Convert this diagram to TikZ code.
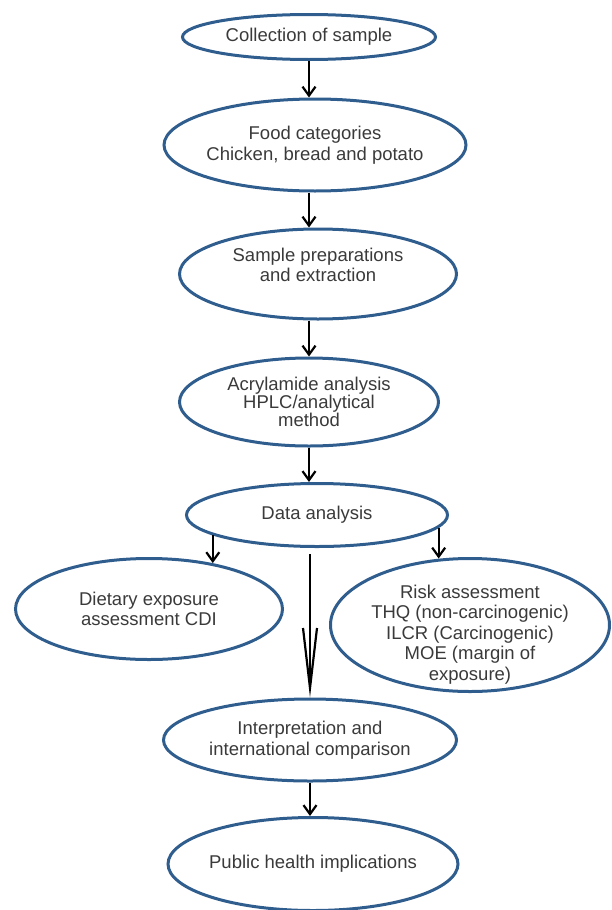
\documentclass[tikz,border=0pt]{standalone}
\usepackage{fontspec}
\setmainfont{Liberation Sans}
\usetikzlibrary{shapes.geometric,arrows.meta}
\definecolor{ovalblue}{HTML}{2F5D8E}
\definecolor{txtgray}{HTML}{3A3A3A}

\begin{document}
\begin{tikzpicture}[x=1pt, y=-1pt,
    oval/.style={ellipse, draw=ovalblue, line width=3pt, inner sep=-12pt, text=txtgray, align=center, font=\fontsize{18.5}{20.5}\selectfont},
    arr/.style={line width=2.2pt, -{Straight Barb[length=9pt,width=13pt]}},
    longarr/.style={line width=2.2pt, -{Straight Barb[length=60pt,width=14pt]}}]
    \useasboundingbox (0,0) rectangle (612,910);

    % Main chain
    \node[oval, minimum width=253, minimum height=45] (collect) at (309,37) {Collection of sample};
    \node[oval, minimum width=302, minimum height=92] (food) at (315,145) {Food categories\\Chicken, bread and potato};
    \node[oval, minimum width=277, minimum height=90] (prep) at (318,274) {Sample preparations\\and extraction\\[-2pt]\mbox{}};
    \node[oval, minimum width=259, minimum height=88, font=\fontsize{18.5}{18}\selectfont] (acryl) at (309,402) {Acrylamide analysis\\HPLC/analytical\\method};
    \node[oval, minimum width=261, minimum height=63] (data) at (317,515) {Data analysis};

    % Branches
    \node[oval, minimum width=267, minimum height=101] (diet) at (149,609) {Dietary exposure\\assessment CDI};
    \node[oval, minimum width=279, minimum height=133, inner ysep=-24pt] (risk) at (470,625) {\rule{0pt}{14pt}\\[-2pt]Risk assessment\\THQ (non-carcinogenic)\\ILCR (Carcinogenic)\\MOE (margin of\\exposure)};

    % Bottom
    \node[oval, minimum width=293, minimum height=82] (interp) at (310,740) {Interpretation and\\international comparison};
    \node[oval, minimum width=290, minimum height=93] (health) at (313,864) {Public health implications};

    % Arrows
    \draw[arr] (collect.south) -- (collect.south |- food.north);
    \draw[arr] (food.south -| collect.south) -- (collect.south |- prep.north);
    \draw[arr] (prep.south -| collect.south) -- (collect.south |- acryl.north);
    \draw[arr] (acryl.south) -- (acryl.south |- data.north);
    \draw[arr] (data.191) -- (data.191 |- diet.36);
    \draw[arr] (data.354) -- (data.354 |- risk.114);
    \draw[longarr, shorten <=6pt] (interp.north |- data.south) -- (interp.north);
    \draw[arr] (interp.south) -- (interp.south |- health.north);
\end{tikzpicture}
\end{document}
